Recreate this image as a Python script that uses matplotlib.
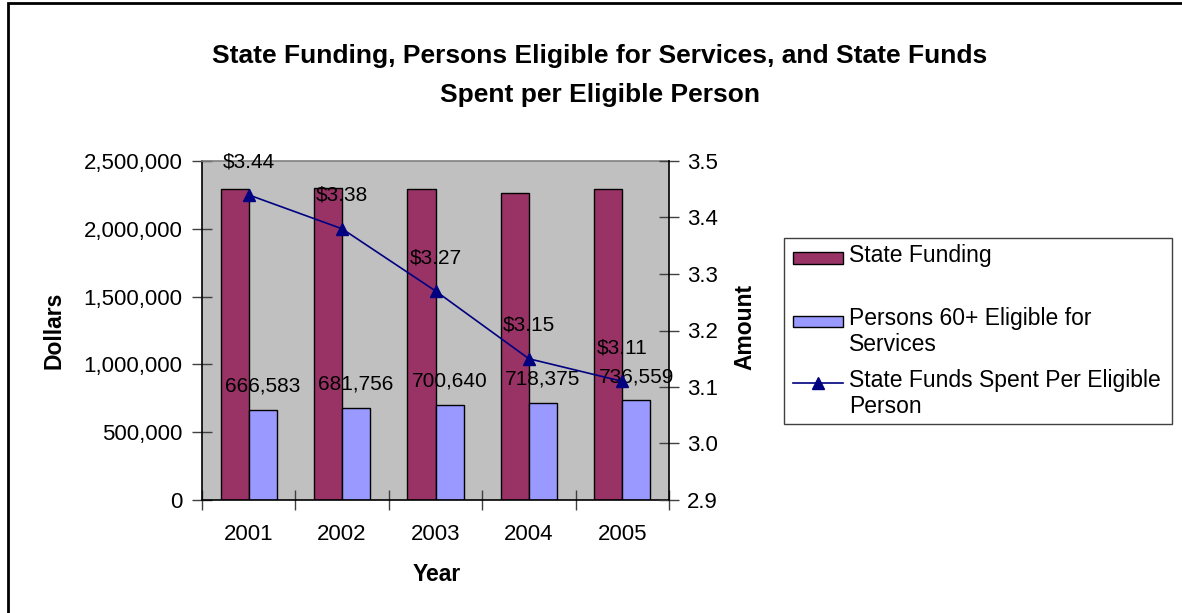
import matplotlib
matplotlib.use("Agg")
import matplotlib.pyplot as plt
from matplotlib.patches import Rectangle
from matplotlib.lines import Line2D
from matplotlib.ticker import FuncFormatter, MultipleLocator
import numpy as np

plt.rcParams['font.family'] = ['Liberation Sans', 'DejaVu Sans']

years = ["2001", "2002", "2003", "2004", "2005"]
state_funding = [2290000, 2300000, 2290000, 2262000, 2290000]
persons_eligible = [666583, 681756, 700640, 718375, 736559]
funds_per_person = [3.44, 3.38, 3.27, 3.15, 3.11]

MAROON = "#993366"
PERIWINKLE = "#9999FF"
NAVY = "#000080"
PLOT_BG = "#C0C0C0"

TICK_FS = 16
LABEL_FS = 16.5
DATA_FS = 15
LEGEND_FS = 16.5
TITLE_FS = 19

W, H = 1182, 613
fig = plt.figure(figsize=(W / 100, H / 100), dpi=100)


def fx(px):
    return px / W


def fy(py):
    return 1 - py / H


# plot area in pixel coordinates
px_left, px_right, px_top, px_bottom = 202, 669, 161, 500
ax = fig.add_axes([fx(px_left), fy(px_bottom),
                   (px_right - px_left) / W, (px_bottom - px_top) / H])
ax.set_facecolor(PLOT_BG)

x = np.arange(len(years))
bw = 0.3
ax.bar(x - bw / 2, state_funding, width=bw, color=MAROON,
       edgecolor="black", linewidth=1.0, zorder=2)
ax.bar(x + bw / 2, persons_eligible, width=bw, color=PERIWINKLE,
       edgecolor="black", linewidth=1.0, zorder=2)

ax.set_xlim(-0.5, len(years) - 0.5)
ax.set_ylim(0, 2500000)
ax.yaxis.set_major_locator(MultipleLocator(500000))
ax.yaxis.set_major_formatter(FuncFormatter(lambda v, p: f"{int(v):,}"))
ax.set_xticks(x)
ax.set_xticklabels(years)
ax.set_xticks(np.arange(len(years) + 1) - 0.5, minor=True)
ax.tick_params(axis="x", which="major", length=0, pad=17, labelsize=TICK_FS)
ax.tick_params(axis="x", which="minor", direction="inout", length=14,
               width=1, color="#404040")
ax.tick_params(axis="y", direction="inout", length=14, width=1,
               color="#404040", pad=7, labelsize=TICK_FS)

for v, xb in zip(persons_eligible, x + bw / 2):
    ax.annotate(f"{v:,}", xy=(xb, v), xytext=(0, 17),
                textcoords="offset points", ha="center", va="center",
                fontsize=DATA_FS, zorder=5)

ax.set_ylabel("Dollars", fontsize=LABEL_FS, fontweight="bold")
ax.yaxis.set_label_coords(-0.293, 0.501)
ax.set_xlabel("Year", fontsize=LABEL_FS, fontweight="bold")
ax.xaxis.set_label_coords(0.503, -0.186)

for side in ("left", "bottom"):
    ax.spines[side].set_color("black")
    ax.spines[side].set_linewidth(1.2)
ax.spines["top"].set_color("#808080")
ax.spines["top"].set_linewidth(1.2)
ax.spines["right"].set_visible(False)

ax2 = ax.twinx()
ax2.plot(x, funds_per_person, color=NAVY, linewidth=1.2, marker="^",
         markersize=8, markerfacecolor=NAVY, markeredgecolor=NAVY, zorder=4)
ax2.set_ylim(2.9, 3.5)
ax2.yaxis.set_major_locator(MultipleLocator(0.1))
ax2.yaxis.set_major_formatter(FuncFormatter(lambda v, p: f"{v:.1f}"))
ax2.tick_params(axis="y", direction="inout", length=14, width=1,
                color="#404040", pad=6, labelsize=TICK_FS)
ax2.spines["right"].set_color("black")
ax2.spines["right"].set_linewidth(1.2)
for side in ("left", "top", "bottom"):
    ax2.spines[side].set_visible(False)
ax2.set_ylabel("Amount", fontsize=LABEL_FS, fontweight="bold")
ax2.yaxis.set_label_coords(1.137, 0.51)

for xv, v in zip(x, funds_per_person):
    ax2.annotate(f"${v:.2f}", xy=(xv, v), xytext=(0, 24),
                 textcoords="offset points", ha="center", va="center",
                 fontsize=DATA_FS, zorder=5)

# title, two centred lines
fig.text(fx(600), fy(63), "State Funding, Persons Eligible for Services, and State Funds",
         ha="center", va="baseline", fontsize=TITLE_FS, fontweight="bold")
fig.text(fx(600), fy(102), "Spent per Eligible Person",
         ha="center", va="baseline", fontsize=TITLE_FS, fontweight="bold")

# legend box
fig.patches.append(Rectangle((fx(784), fy(424)), fx(1172) - fx(784),
                             fy(238) - fy(424), transform=fig.transFigure,
                             facecolor="white", edgecolor="#404040",
                             linewidth=1.0))
fig.patches.append(Rectangle((fx(793), fy(264)), fx(843) - fx(793),
                             fy(252) - fy(264), transform=fig.transFigure,
                             facecolor=MAROON, edgecolor="black", linewidth=1.0))
fig.patches.append(Rectangle((fx(793), fy(327)), fx(843) - fx(793),
                             fy(316) - fy(327), transform=fig.transFigure,
                             facecolor=PERIWINKLE, edgecolor="black", linewidth=1.0))
fig.lines.append(Line2D([fx(793), fx(843)], [fy(383), fy(383)],
                        transform=fig.transFigure, color=NAVY, linewidth=1.2))
fig.lines.append(Line2D([fx(818)], [fy(383)], transform=fig.transFigure,
                        marker="^", markersize=8, color=NAVY, linestyle="none"))
legend_lines = [
    ("State Funding", 262),
    ("Persons 60+ Eligible for", 325),
    ("Services", 351),
    ("State Funds Spent Per Eligible", 387),
    ("Person", 413),
]
for txt, base in legend_lines:
    fig.text(fx(849), fy(base), txt, ha="left", va="baseline", fontsize=LEGEND_FS)

# chart frame
fig.patches.append(Rectangle((fx(8), -0.05), 1.2, fy(3) + 0.05,
                             transform=fig.transFigure, facecolor="none",
                             edgecolor="black", linewidth=2.0))

fig.savefig("out.png", dpi=100)
